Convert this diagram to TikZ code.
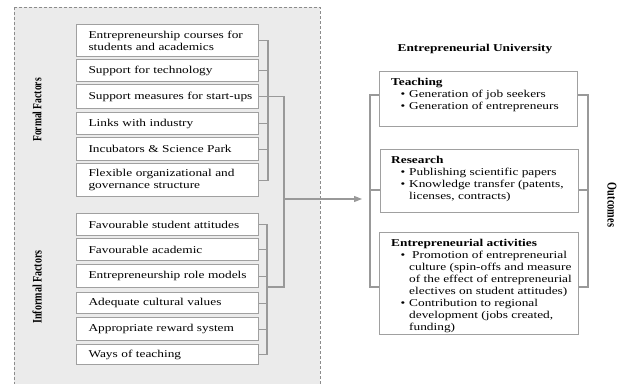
\documentclass[tikz,border=0pt]{standalone}
\usepackage{fontspec}
\setmainfont{Liberation Serif}[FakeStretch=1.27]
\newfontfamily\lblfont{Liberation Serif}
\usetikzlibrary{arrows.meta}
\definecolor{boxline}{HTML}{A0A0A0}
\definecolor{connline}{HTML}{999999}
\definecolor{panelfill}{HTML}{EBEBEB}
\definecolor{panelline}{HTML}{8C8C8C}
\newcommand\ind[1]{\hspace*{6pt}#1}
\newcommand\bul{\makebox[18pt][r]{\textbullet\hspace{4pt}}}
\newcommand\cont{\hspace*{18pt}}
\begin{document}
\begin{tikzpicture}[x=1pt,y=-1pt,
  every node/.style={font=\fontsize{10.5}{12}\selectfont},
  lbox/.style={draw=boxline, line width=1.1pt, fill=white, minimum width=182pt,
    text width=170pt, inner xsep=6pt, inner ysep=0pt, align=left, anchor=north west},
  rbox/.style={draw=boxline, line width=1.1pt, fill=white, anchor=north west, inner sep=0pt},
  rtext/.style={anchor=north west, inner sep=0pt, align=left},
  conn/.style={draw=connline, line width=1.1pt},
  side/.style={inner sep=0pt}]
\useasboundingbox (0,0) rectangle (629,383);
% panel
\draw[draw=panelline, dash pattern=on 3pt off 2pt, fill=panelfill, line width=0.8pt] (14,7) rectangle (320,390);
% side labels
\node[side, rotate=90] (formal) at (37,110) {\scalebox{1}[1.3]{\lblfont\fontsize{9.6}{11}\selectfont\bfseries Formal Factors}};
\node[side, rotate=90] (informal) at (37,287) {\scalebox{1}[1.3]{\lblfont\fontsize{10}{11}\selectfont\bfseries Informal Factors}};
\node[side, rotate=-90] (outcomes) at (612,205) {\scalebox{1}[1.3]{\lblfont\fontsize{10.3}{11}\selectfont\bfseries Outcomes}};
% formal factor boxes
\node[lbox, minimum height=32pt] (f1) at (76,24) {\ind{Entrepreneurship courses for}\\\ind{students and academics}};
\node[lbox, minimum height=22pt] (f2) at (76,59) {\ind{Support for technology}};
\node[lbox, minimum height=24pt] (f3) at (76,84) {\ind{Support measures for start-ups}};
\node[lbox, minimum height=22pt] (f4) at (76,112) {\ind{Links with industry}};
\node[lbox, minimum height=23pt] (f5) at (76,137) {\ind{Incubators \& Science Park}};
\node[lbox, minimum height=33pt] (f6) at (76,163) {\ind{Flexible organizational and}\\\ind{governance structure}};
% informal factor boxes
\node[lbox, minimum height=22pt] (i1) at (76,213) {\ind{Favourable student attitudes}};
\node[lbox, minimum height=22pt] (i2) at (76,238) {\ind{Favourable academic}};
\node[lbox, minimum height=23pt] (i3) at (76,264) {\ind{Entrepreneurship role models}};
\node[lbox, minimum height=21pt] (i4) at (76,292) {\ind{Adequate cultural values}};
\node[lbox, minimum height=23pt] (i5) at (76,317) {\ind{Appropriate reward system}};
\node[lbox, minimum height=20pt] (i6) at (76,344) {\ind{Ways of teaching}};
% title
\node (title) at (475,49) {\bfseries Entrepreneurial University};
% outcome boxes
\node[rbox, minimum width=198pt, minimum height=55pt] (teach) at (379,71) {};
\node[rbox, minimum width=198pt, minimum height=63pt] (research) at (380,149) {};
\node[rbox, minimum width=199pt, minimum height=102pt] (ea) at (379,232) {};
\node[rtext] (teachtxt) at (391,78) {\textbf{Teaching}\\
  \bul Generation of job seekers\\
  \bul Generation of entrepreneurs};
\node[rtext] (restxt) at (391,156) {\textbf{Research}\\
  \bul Publishing scientific papers\\
  \bul Knowledge transfer (patents,\\
  \cont licenses, contracts)};
\node[rtext] (eatxt) at (391,239) {\textbf{Entrepreneurial activities}\\
  \bul\hspace{3pt}Promotion of entrepreneurial\\
  \cont culture (spin-offs and measure\\
  \cont of the effect of entrepreneurial\\
  \cont electives on student attitudes)\\
  \bul Contribution to regional\\
  \cont development (jobs created,\\
  \cont funding)};
% helper coordinates
\coordinate (fbx) at (268,0);
\coordinate (ibx) at (267,0);
\coordinate (mainx) at (284,0);
\coordinate (ijoin) at (267,287);
\coordinate (arrtip) at (362,199);
\coordinate (rl) at (370,0);
\coordinate (rr) at (588,0);
\coordinate (t1) at (0,95);
\coordinate (t2) at (0,190);
\coordinate (t3) at (0,287);
% formal bracket
\draw[conn] (f1.east) -| (fbx |- f6.east) -- (f6.east);
\foreach \b in {f2,f4,f5} \draw[conn] (\b.east) -- (\b.east -| fbx);
% informal bracket
\draw[conn] (i1.east) -| (ibx |- i6.east) -- (i6.east);
\foreach \b in {i2,i3,i4,i5} \draw[conn] (\b.east) -- (\b.east -| ibx);
% main trunk
\draw[conn] (f3.east) -- (f3.east -| mainx) -- (mainx |- ijoin) -- (ijoin);
\draw[conn, -{Triangle[length=8pt,width=6pt]}, fill=connline] (mainx |- arrtip) -- (arrtip);
% outcome brackets
\draw[conn] (teach.west |- t1) -- (rl |- t1) -- (rl |- t3) -- (ea.west |- t3);
\draw[conn] (research.west |- t2) -- (rl |- t2);
\draw[conn] (teach.east |- t1) -- (rr |- t1) -- (rr |- t3) -- (ea.east |- t3);
\draw[conn] (research.east |- t2) -- (rr |- t2);
\end{tikzpicture}
\end{document}
